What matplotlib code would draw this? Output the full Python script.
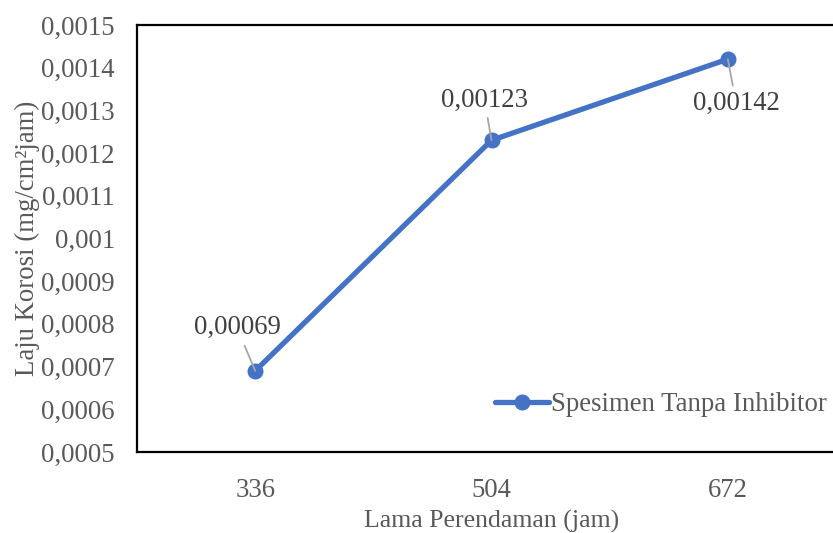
import matplotlib
matplotlib.use("Agg")
import matplotlib.pyplot as plt

categories = ["336", "504", "672"]
values = [0.00069, 0.00123, 0.00142]
labels = ["0,00069", "0,00123", "0,00142"]
yticks = [0.0005, 0.0006, 0.0007, 0.0008, 0.0009, 0.0010, 0.0011, 0.0012, 0.0013, 0.0014, 0.0015]
ytick_labels = ["0,0005", "0,0006", "0,0007", "0,0008", "0,0009", "0,001",
                "0,0011", "0,0012", "0,0013", "0,0014", "0,0015"]

plt.rcParams['font.family'] = ['Liberation Serif', 'DejaVu Serif']
FS = 19.3
W, H = 833, 533
fig = plt.figure(figsize=(W / 100, H / 100), dpi=100)
ax = fig.add_axes([137 / W, 1 - 452 / H, (846 - 137) / W, (452 - 25) / H])

x = list(range(len(categories)))
ax.plot(x, values, color="#4472C4", lw=3.8, marker="o", ms=10.5,
        label="Spesimen Tanpa Inhibitor", solid_capstyle="round", zorder=3)

ax.set_xlim(-0.5, 2.5)
ax.set_ylim(0.0005, 0.0015)
ax.set_xticks(x)
ax.set_xticklabels(categories)
ax.set_yticks(yticks)
ax.set_yticklabels(ytick_labels)
ax.tick_params(axis="both", length=0, labelsize=FS, labelcolor="#595959")
ax.tick_params(axis="x", pad=19)
ax.tick_params(axis="y", pad=16)
for s in ax.spines.values():
    s.set_linewidth(1.6)
    s.set_color("black")

ax.set_ylabel("Laju Korosi (mg/cm²jam)", fontsize=FS, color="#595959", labelpad=1)
ax.set_xlabel("Lama Perendaman (jam)", fontsize=18.5, color="#595959", labelpad=5)

# data labels with leader lines (offsets in points)
offsets = [(-13, 31), (-5, 29), (6, -32)]
for xi, yi, lab, off in zip(x, values, labels, offsets):
    ax.annotate(lab, xy=(xi, yi), xytext=off, textcoords="offset points",
                ha="center", va="center", fontsize=FS, color="#404040", zorder=4,
                arrowprops=dict(arrowstyle="-", color="#A6A6A6", lw=1.3,
                                shrinkA=2, shrinkB=0))

leg = ax.legend(loc="lower right", bbox_to_anchor=((838 - 137) / (846 - 137), 0.057),
                frameon=False, fontsize=FS, handlelength=2.0, handletextpad=0.1,
                borderaxespad=0)
for t in leg.get_texts():
    t.set_color("#595959")

fig.savefig("out.png", dpi=100)
